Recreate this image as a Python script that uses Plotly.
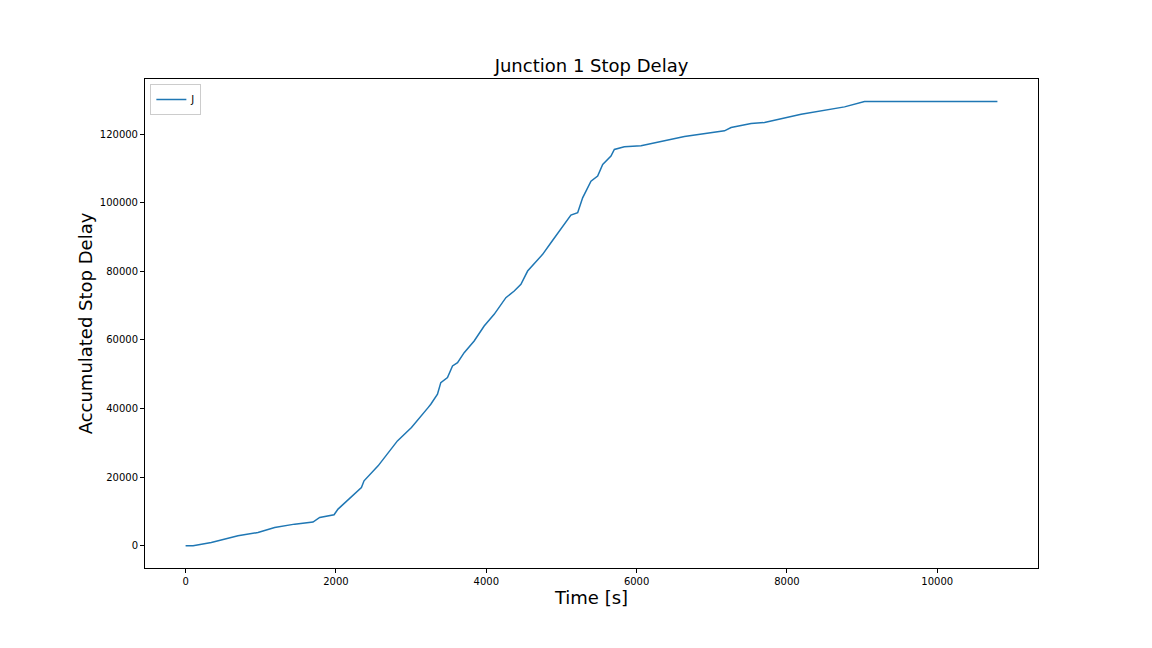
import plotly.graph_objects as go

time_s = [0, 100, 342, 697, 963, 1185, 1451, 1695, 1784, 1975, 2028, 2339, 2374, 2561,
          2818, 3005, 3226, 3262, 3351, 3395, 3484, 3551, 3618, 3706, 3839, 3972, 4105,
          4261, 4372, 4461, 4550, 4750, 4860, 4971, 5038, 5126, 5216, 5282, 5393, 5482,
          5549, 5659, 5704, 5837, 6059, 6414, 6636, 7169, 7257, 7523, 7701, 8189, 8589,
          8766, 9032, 10800]
stop_delay = [0, 0, 960, 2900, 3870, 5330, 6310, 6900, 8250, 9030, 10690, 16980, 18930, 23300,
              30580, 34460, 40280, 41270, 44180, 47560, 49020, 52430, 53390, 56300, 59710, 64080, 67480,
              72330, 74270, 76220, 80090, 84960, 88340, 91750, 93700, 96410, 97080, 101450, 106310, 107770,
              111170, 113590, 115540, 116310, 116600, 118250, 119330, 120970, 121940, 123110, 123400, 125830, 127280,
              127950, 129520, 129520]
x_ticks = [0, 2000, 4000, 6000, 8000, 10000]
y_ticks = [0, 20000, 40000, 60000, 80000, 100000, 120000]

fig = go.Figure()
fig.add_trace(go.Scatter(x=time_s, y=stop_delay, mode="lines", name="J",
                         line=dict(color="#1f77b4", width=1.5)))

axis_common = dict(showgrid=False, zeroline=False, showline=True, linecolor="black",
                   linewidth=1, mirror=True, ticks="outside", ticklen=4, tickcolor="black",
                   tickfont=dict(size=10, color="black"), tickformat="d")

fig.update_layout(
    width=1152, height=648,
    margin=dict(l=137, r=122, t=71, b=88),
    paper_bgcolor="white", plot_bgcolor="white",
    font=dict(family="DejaVu Sans", color="black"),
    title=dict(text="Junction 1 Stop Delay", x=0.5, xref="paper", xanchor="center",
               y=1 - 58 / 648, yref="container", yanchor="middle", font=dict(size=18)),
    xaxis=dict(range=[-540, 11340], tickvals=x_ticks,
               title=dict(text="Time [s]", font=dict(size=18), standoff=3), **axis_common),
    yaxis=dict(range=[-6480, 136080], tickvals=y_ticks,
               title=dict(text="Accumulated Stop Delay", font=dict(size=18), standoff=2), **axis_common),
    legend=dict(x=0.006, y=0.99, xanchor="left", yanchor="top", bordercolor="#cccccc",
                borderwidth=1, bgcolor="white", font=dict(size=10), itemwidth=30,
                tracegroupgap=0),
    showlegend=True,
)

fig.write_html("out.html")
